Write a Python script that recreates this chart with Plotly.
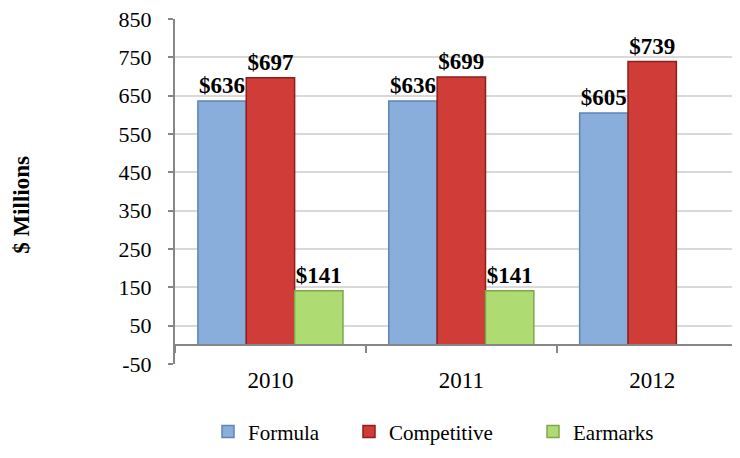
import plotly.graph_objects as go

years = ["2010", "2011", "2012"]
formula = [636, 636, 605]
competitive = [697, 699, 739]
earmarks = [141, 141, None]
y_ticks = [-50, 50, 150, 250, 350, 450, 550, 650, 750, 850]
y_tick_text = ["-50", "50", "150", "250", "350", "450", "550", "650", "750", "850"]

def labels(vals):
    return [("$%d" % v) if v is not None else "" for v in vals]

FONT = "Liberation Serif"
PLOT_L, PLOT_W = 175, 565          # page pixels of plot area (left, width)
legend_marker_px = [221, 362, 546]  # target page x of legend markers

fig = go.Figure()
series = [
    ("Formula", formula, "#8AAEDC", "#5F83B3", "legend"),
    ("Competitive", competitive, "#D03C38", "#8E1E1B", "legend2"),
    ("Earmarks", earmarks, "#AEDB72", "#7FA84A", "legend3"),
]
for name, vals, fill, edge, lg in series:
    fig.add_trace(go.Bar(
        name=name, x=years, y=vals, legend=lg,
        marker=dict(color=fill, line=dict(color=edge, width=1.5)),
        text=labels(vals), textposition="outside", cliponaxis=False,
        textfont=dict(family=FONT, size=23, color="#000000", weight="bold"),
    ))

# helper axis drawn at the zero line with boundary ticks
fig.add_trace(go.Scatter(x=years, y=[None] * 3, xaxis="x2", showlegend=False,
                         hoverinfo="skip"))

def legend_at(px):
    return dict(orientation="h", x=(px - 13 - PLOT_L) / PLOT_W, xanchor="left",
                y=-0.197, yanchor="middle", itemwidth=30,
                bgcolor="rgba(0,0,0,0)",
                font=dict(family=FONT, size=21, color="#000000"))

fig.update_layout(
    width=732, height=450,
    margin=dict(l=167, r=0, t=11, b=94),
    paper_bgcolor="white", plot_bgcolor="white",
    barmode="group", bargap=0.24, bargroupgap=0,
    font=dict(family=FONT, size=22, color="#000000"),
    xaxis=dict(type="category", range=[-0.5, 2.46], showline=False,
               showgrid=False, ticks="",
               tickfont=dict(family=FONT, size=23, color="#000000")),
    xaxis2=dict(type="category", range=[-0.5, 2.46], overlaying="x",
                anchor="free", position=50 / 900, side="bottom",
                showline=True, linecolor="#868686", linewidth=2,
                ticks="outside", tickson="boundaries", ticklen=7,
                tickcolor="#868686", tickwidth=1.5,
                showticklabels=False, showgrid=False),
    yaxis=dict(range=[-50, 850], tickvals=y_ticks, ticktext=y_tick_text,
               showline=True, linecolor="#868686", linewidth=2,
               ticks="outside", ticklen=5, tickcolor="#868686", tickwidth=1.5,
               gridcolor="#D9D9D9", gridwidth=1.5, zeroline=False,
               ticklabeloverflow="allow", ticklabelstandoff=12,
               tickfont=dict(family=FONT, size=22, color="#000000")),
    legend=legend_at(legend_marker_px[0]),
    legend2=legend_at(legend_marker_px[1]),
    legend3=legend_at(legend_marker_px[2]),
    showlegend=True,
    annotations=[dict(text="<b>$ Millions</b>", xref="paper", yref="paper",
                      x=-0.271, y=0.461, xanchor="center", yanchor="middle",
                      textangle=-90, showarrow=False,
                      font=dict(family=FONT, size=23, color="#000000"))],
)

fig.write_html("out.html")
